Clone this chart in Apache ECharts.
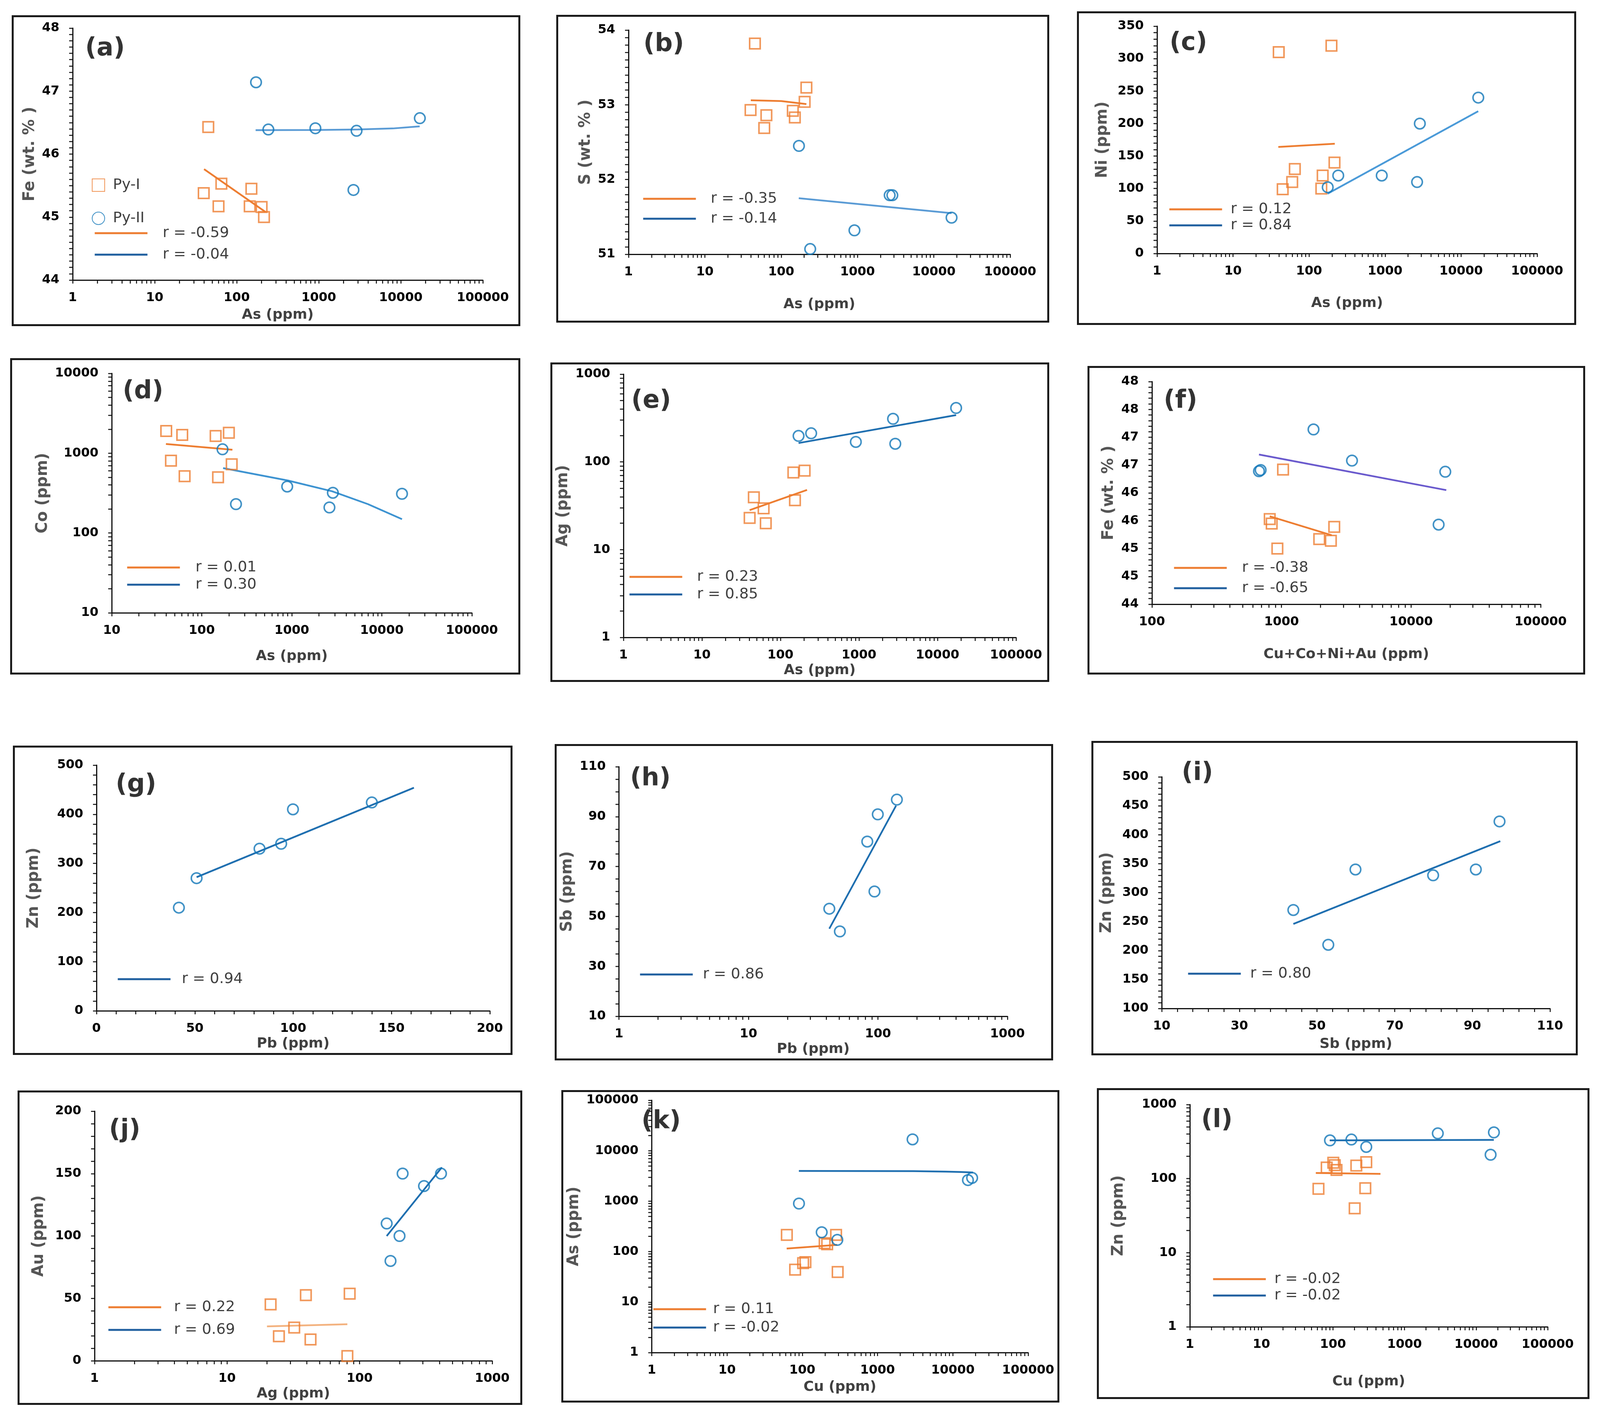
<!DOCTYPE html>
<html>
<head>
<meta charset="utf-8">
<script src="https://cdn.jsdelivr.net/npm/echarts@6/dist/echarts.min.js"></script>
<style>
html, body { margin: 0; padding: 0; background: #fff; }
body { width: 4097px; height: 3628px; position: relative; overflow: hidden; }
.panel { position: absolute; border: 5px solid #1a1a1a; box-sizing: border-box; background: #fff; }
.panel > div { position: absolute; left: 0; top: 0; }
</style>
</head>
<body>
<script>
// ---- data: [x, y] pairs ----
// (a) As vs Fe
const aPy1 = [[45, 46.43], [39.6, 45.38], [65, 45.53], [60, 45.17], [151, 45.45], [144, 45.17], [201, 45.16], [215, 45.0]];
const aPy2 = [[172, 47.14], [243, 46.39], [910, 46.41], [2890, 46.37], [17070, 46.57], [2650, 45.43]];
const aFit1 = [[40, 45.76], [225, 45.08]];
const aFit2 = [[170, 46.38], [1000, 46.383], [3000, 46.39], [8000, 46.407], [17000, 46.44]];
// (b) As vs S
const bPy1 = [[45.3, 53.82], [39.7, 52.93], [64, 52.86], [60, 52.69], [142, 52.92], [151, 52.83], [203, 53.04], [214, 53.23]];
const bPy2 = [[171, 52.45], [2640, 51.79], [2860, 51.79], [912, 51.32], [240, 51.07], [17070, 51.49]];
const bFit1 = [[40, 53.06], [100, 53.05], [214, 53.01]];
const bFit2 = [[170, 51.75], [17070, 51.55]];
// (c) As vs Ni
const cPy1 = [[39.9, 310], [197, 320], [45, 99], [60, 110], [65, 130], [151, 120], [145, 100], [216, 140]];
const cPy2 = [[242, 120], [176, 102], [904, 120], [2865, 200], [2637, 110], [16830, 240]];
const cFit1 = [[39.4, 164], [218, 169]];
const cFit2 = [[175, 92], [16800, 219]];
// (d) As vs Co
const dPy1 = [[40.3, 1898], [60.7, 1697], [142.6, 1644], [200, 1804], [45.5, 805], [64.5, 515], [151.7, 499], [215, 725]];
const dPy2 = [[170, 1119], [240, 230], [889, 382], [2858, 319], [2618, 209], [16750, 310]];
const dFit1 = [[40, 1306], [219, 1104]];
const dFit2 = [[172.6, 651], [904, 455], [2805, 333], [7010, 230], [16750, 149]];
// (e) As vs Ag
const ePy1 = [[40.5, 23], [45.8, 39.5], [61, 29.6], [65, 20], [146, 75.7], [203, 79.6], [153, 36.6]];
const ePy2 = [[170, 198], [246, 212], [912, 169], [2716, 310], [2900, 161], [17270, 412]];
const eFit1 = [[40.5, 28.2], [218, 47.9]];
const eFit2 = [[170, 164], [17270, 342]];
// (f) Cu+Co+Ni+Au vs Fe
const fPy1 = [[1028, 46.42], [811, 45.53], [840, 45.45], [929, 45.0], [1955, 45.17], [2404, 45.14], [2553, 45.39]];
const fPy2 = [[670, 46.39], [690, 46.41], [1766, 47.14], [3500, 46.58], [18370, 46.38], [16320, 45.43]];
const fFit1 = [[811, 45.58], [2440, 45.24]];
const fFit2 = [[670, 46.69], [18700, 46.05]];
// (g) Pb vs Zn
const gPy2 = [[41.9, 210], [50.9, 270], [82.9, 330], [93.9, 340], [99.9, 410], [140, 424]];
const gFit2 = [[50.9, 272], [161.4, 454]];
// (h) Pb vs Sb
const hPy2 = [[42.1, 53.1], [50.8, 44], [82.7, 80], [99.7, 90.9], [94, 60], [140, 96.8]];
const hFit2 = [[42.1, 45.1], [138, 94.4]];
// (i) Sb vs Zn
const iPy2 = [[43.9, 270], [52.9, 210], [59.9, 340], [79.9, 330], [90.9, 340], [97, 423]];
const iFit2 = [[43.9, 246], [97.2, 389]];
// (j) Ag vs Au
const jPy1 = [[21.3, 45.2], [24.6, 19.7], [32.1, 26.6], [39.3, 52.6], [42.6, 17.1], [84.1, 53.8], [80.8, 3.8]];
const jPy2 = [[160, 110], [171, 80], [200, 100], [211, 150], [306, 140], [411, 150]];
const jFit1 = [[20, 27.6], [80.8, 29.3]];
const jFit2 = [[160, 100], [417, 155]];
// (k) Cu vs As
const kPy1 = [[62.3, 215], [80.3, 43.9], [102.6, 59.1], [110, 62], [198, 147], [214, 140], [281, 215], [295, 39.4]];
const kPy2 = [[90.3, 897], [181, 242], [292, 171], [2917, 16760], [15870, 2619], [18030, 2891]];
const kFit1 = [[62, 115], [290, 136]];
const kFit2 = [[90, 3975], [3000, 3930], [8000, 3857], [13000, 3780], [18500, 3700]];
// (l) Cu vs Zn
const lPy1 = [[62.7, 72.8], [81.7, 141], [101, 164], [112, 131], [106, 152], [212, 150], [292, 167], [283, 74.3], [201, 39.7]];
const lPy2 = [[90.9, 328], [181, 337], [292, 268], [2917, 408], [17740, 421], [15950, 210]];
const lFit1 = [[57.6, 119], [461, 116]];
const lFit2 = [[90, 328], [17700, 333]];

// ---- tick labels ----
const log1to5 = [1, 10, 100, 1000, 10000, 100000];
const log10to5 = [10, 100, 1000, 10000, 100000];
const log100to5 = [100, 1000, 10000, 100000];
const log1to3 = [1, 10, 100, 1000];
const log10to4 = [10, 100, 1000, 10000];
const feLabels = [44, 45, 46, 47, 48];
const sLabels = [51, 52, 53, 54];
const niLabels = [0, 50, 100, 150, 200, 250, 300, 350];
const feLabelsF = [44, 44.5, 45, 45.5, 46, 46.5, 47, 47.5, 48];
const znLabelsG = [0, 100, 200, 300, 400, 500];
const pbLabelsG = [0, 50, 100, 150, 200];
const sbLabels = [10, 30, 50, 70, 90, 110];
const znLabelsI = [100, 150, 200, 250, 300, 350, 400, 450, 500];
const auLabels = [0, 50, 100, 150, 200];

const ORANGE = '#ed7d31';
const BLUE = '#1277b8';
const FIT_BLUE = '#1f6fb0';
const LIGHT_BLUE = '#5a9bd5';
const LEG_BLUE = '#1f5f9f';
const FONT = 'DejaVu Sans';
const LEG_H = 46;

function logTicks(min, max) {
    const t = [];
    for (let d = min; d < max; d *= 10) {
        for (let k = 1; k < 10; k++) t.push(k * d);
    }
    t.push(max);
    return t;
}
function linTicks(min, max, step) {
    const t = [];
    const n = Math.round((max - min) / step);
    for (let i = 0; i <= n; i++) t.push(Math.round((min + i * step) * 1000) / 1000);
    return t;
}
function logAxis(min, max, labels) {
    return { type: 'log', min: min, max: max, labels: labels, ticks: logTicks(min, max) };
}
function linAxis(min, max, labels, step) {
    return { type: 'value', min: min, max: max, labels: labels, ticks: linTicks(min, max, step) };
}

const panels = [
    { tag: '(a)', box: [30, 39, 1332, 835], plot: [186, 72, 1236, 722], tagPos: [218, 127],
      x: logAxis(1, 100000, log1to5), y: linAxis(44, 48, feLabels, 0.1),
      xName: 'As (ppm)', yName: 'Fe (wt. % )', xNameY: 813, yNameX: 80,
      py1: aPy1, py2: aPy2, fit1: aFit1, fit2: aFit2, fit2Color: LIGHT_BLUE,
      r1: 'r = -0.59', r2: 'r = -0.04', leg: { x: 240, y: 601, dy: 63, gap: 39 },
      sym: { x: 235, y: 471, dy: 79, gap: 23 } },
    { tag: '(b)', box: [1424, 38, 2686, 826], plot: [1609, 77, 2586, 651], tagPos: [1647, 116],
      x: logAxis(1, 100000, log1to5), y: linAxis(51, 54, sLabels, 0.1),
      xName: 'As (ppm)', yName: 'S (wt. % )', xNameY: 781, yNameX: 1500,
      py1: bPy1, py2: bPy2, fit1: bFit1, fit2: bFit2, fit2Color: LIGHT_BLUE,
      r1: 'r = -0.35', r2: 'r = -0.14', leg: { x: 1644, y: 513, dy: 59, gap: 38 } },
    { tag: '(c)', box: [2757, 29, 4035, 832], plot: [2962, 67, 3935, 649], tagPos: [2994, 113],
      x: logAxis(1, 100000, log1to5), y: linAxis(0, 350, niLabels, 10),
      xName: 'As (ppm)', yName: 'Ni (ppm)', xNameY: 778, yNameX: 2823,
      py1: cPy1, py2: cPy2, fit1: cFit1, fit2: cFit2, fit2Color: '#4a9ad8',
      r1: 'r = 0.12', r2: 'r = 0.84', leg: { x: 2991, y: 540, dy: 49, gap: 22 } },
    { tag: '(d)', box: [26, 917, 1332, 1727], plot: [286, 956, 1208, 1569], tagPos: [314, 1005],
      x: logAxis(10, 100000, log10to5), y: logAxis(10, 10000, log10to4),
      xName: 'As (ppm)', yName: 'Co (ppm)', xNameY: 1682, yNameX: 118,
      py1: dPy1, py2: dPy2, fit1: dFit1, fit2: dFit2, fit2Color: '#3d93d1',
      r1: 'r = 0.01', r2: 'r = 0.30', leg: { x: 323, y: 1457, dy: 52, gap: 40 } },
    { tag: '(e)', box: [1409, 928, 2686, 1746], plot: [1566, 958, 2601, 1632], tagPos: [1616, 1029],
      x: logAxis(1, 100000, log1to5), y: logAxis(1, 1000, log1to3),
      xName: 'As (ppm)', yName: 'Ag (ppm)', xNameY: 1718, yNameX: 1456,
      py1: ePy1, py2: ePy2, fit1: eFit1, fit2: eFit2, fit2Color: FIT_BLUE,
      r1: 'r = 0.23', r2: 'r = 0.85', leg: { x: 1609, y: 1481, dy: 53, gap: 38 } },
    { tag: '(f)', box: [2784, 937, 4058, 1727], plot: [2949, 977, 3944, 1547], tagPos: [2979, 1029],
      x: logAxis(100, 100000, log100to5), y: linAxis(44, 48, feLabelsF, 0.1),
      xName: 'Cu+Co+Ni+Au (ppm)', yName: 'Fe (wt. % )', xNameY: 1677, yNameX: 2839,
      py1: fPy1, py2: fPy2, fit1: fFit1, fit2: fFit2, fit2Color: '#6a5acd',
      r1: 'r = -0.38', r2: 'r = -0.65', leg: { x: 3003, y: 1458, dy: 60, gap: 39 } },
    { tag: '(g)', box: [33, 1909, 1312, 2701], plot: [247, 1959, 1254, 2591], tagPos: [296, 2012],
      x: linAxis(0, 200, pbLabelsG, 10), y: linAxis(0, 500, znLabelsG, 20),
      xName: 'Pb (ppm)', yName: 'Zn (ppm)', xNameY: 2676, yNameX: 87,
      py2: gPy2, fit2: gFit2, fit2Color: FIT_BLUE,
      r2: 'r = 0.94', leg: { x: 299, y: 2511, dy: 55, gap: 29 } },
    { tag: '(h)', box: [1420, 1905, 2696, 2715], plot: [1575, 1963, 2579, 2610], tagPos: [1613, 1996],
      x: logAxis(1, 1000, log1to3), y: linAxis(10, 110, sbLabels, 5),
      xName: 'Pb (ppm)', yName: 'Sb (ppm)', xNameY: 2682, yNameX: 1458,
      py2: hPy2, fit2: hFit2, fit2Color: FIT_BLUE,
      r2: 'r = 0.86', leg: { x: 1636, y: 2499, dy: 55, gap: 26 } },
    { tag: '(i)', box: [2794, 1897, 4039, 2702], plot: [2974, 1989, 3968, 2586], tagPos: [3025, 1982],
      x: linAxis(10, 110, sbLabels, 4), y: linAxis(100, 500, znLabelsI, 10),
      xName: 'Sb (ppm)', yName: 'Zn (ppm)', xNameY: 2679, yNameX: 2834,
      py2: iPy2, fit2: iFit2, fit2Color: FIT_BLUE,
      r2: 'r = 0.80', leg: { x: 3039, y: 2497, dy: 55, gap: 24 } },
    { tag: '(j)', box: [45, 2792, 1337, 3597], plot: [242, 2845, 1260, 3490], tagPos: [279, 2896],
      x: logAxis(1, 1000, log1to3), y: linAxis(0, 200, auLabels, 10),
      xName: 'Ag (ppm)', yName: 'Au (ppm)', xNameY: 3558, yNameX: 100,
      py1: jPy1, py2: jPy2, fit1: jFit1, fit2: jFit2, fit1Color: '#f3b27f', fit2Color: FIT_BLUE,
      r1: 'r = 0.22', r2: 'r = 0.69', leg: { x: 275, y: 3351, dy: 66, gap: 33 } },
    { tag: '(k)', box: [1437, 2791, 2712, 3591], plot: [1607, 2817, 2632, 3463], tagPos: [1642, 2874],
      x: logAxis(1, 100000, log1to5), y: logAxis(1, 100000, log1to5),
      xName: 'Cu (ppm)', yName: 'As (ppm)', xNameY: 3553, yNameX: 1470,
      py1: kPy1, py2: kPy2, fit1: kFit1, fit2: kFit2, fit2Color: FIT_BLUE,
      r1: 'r = 0.11', r2: 'r = -0.02', leg: { x: 1670, y: 3356, dy: 55, gap: 18 } },
    { tag: '(l)', box: [2808, 2786, 4069, 3582], plot: [3046, 2828, 3962, 3397], tagPos: [3075, 2871],
      x: logAxis(1, 100000, log1to5), y: logAxis(1, 1000, log1to3),
      xName: 'Cu (ppm)', yName: 'Zn (ppm)', xNameY: 3539, yNameX: 2864,
      py1: lPy1, py2: lPy2, fit1: lFit1, fit2: lFit2, fit2Color: FIT_BLUE,
      r1: 'r = -0.02', r2: 'r = -0.02 ', leg: { x: 3103, y: 3279, dy: 50, gap: 22 } }
];

function buildAxis(a, name, gap, isX) {
    return {
        type: a.type, min: a.min, max: a.max, logBase: 10,
        name: name, nameLocation: 'middle', nameGap: gap, nameRotate: isX ? 0 : 90,
        nameTextStyle: {
            fontFamily: FONT, fontWeight: 'bold',
            fontSize: isX ? 36 : 40, color: isX ? '#404040' : '#555'
        },
        axisLine: { show: true, onZero: false, lineStyle: { color: '#111', width: 3 } },
        axisTick: { show: true, length: 9, customValues: a.ticks, lineStyle: { color: '#111', width: 2.5 } },
        axisLabel: {
            customValues: a.labels, margin: isX ? 30 : 34,
            formatter: v => String(Math.round(v)),
            fontFamily: FONT, fontWeight: 'bold', fontSize: 32, color: '#000'
        },
        splitLine: { show: false }
    };
}

panels.forEach(p => {
    const [L, T, R, B] = p.box;
    const ox = L + 5, oy = T + 5;
    const outer = document.createElement('div');
    outer.className = 'panel';
    outer.style.left = L + 'px';
    outer.style.top = T + 'px';
    outer.style.width = (R - L) + 'px';
    outer.style.height = (B - T) + 'px';
    const inner = document.createElement('div');
    inner.style.width = (R - L - 10) + 'px';
    inner.style.height = (B - T - 10) + 'px';
    outer.appendChild(inner);
    document.body.appendChild(outer);

    const [gx0, gy0, gx1, gy1] = p.plot;
    const xGap = (p.xNameY - 19) - gy1;
    const yGap = gx0 - (p.yNameX + 20);

    const series = [];
    const lineItems = [];
    if (p.py1) {
        series.push({
            type: 'scatter', name: 'Py-I', data: p.py1, symbol: 'rect', symbolSize: 27, z: 3,
            itemStyle: { color: 'rgba(255,255,255,0)', borderColor: ORANGE, borderWidth: 4 }
        });
    }
    series.push({
        type: 'scatter', name: 'Py-II', data: p.py2, symbol: 'circle', symbolSize: 27, z: 3,
        itemStyle: { color: 'rgba(255,255,255,0)', borderColor: BLUE, borderWidth: 4 }
    });
    if (p.fit1) {
        series.push({
            type: 'line', name: p.r1, data: p.fit1, symbol: 'none', showSymbol: false, z: 2,
            lineStyle: { color: p.fit1Color || ORANGE, width: 4.5 }
        });
        lineItems.push({ name: p.r1, itemStyle: { opacity: 0 }, lineStyle: { color: ORANGE, width: 5 } });
    }
    series.push({
        type: 'line', name: p.r2, data: p.fit2, symbol: 'none', showSymbol: false, z: 2,
        lineStyle: { color: p.fit2Color, width: 4.5 }
    });
    lineItems.push({ name: p.r2, itemStyle: { opacity: 0 }, lineStyle: { color: LEG_BLUE, width: 5 } });

    const legends = [{
        orient: 'vertical', left: p.leg.x - ox, top: p.leg.y - oy - LEG_H / 2,
        itemWidth: 135, itemHeight: LEG_H, itemGap: p.leg.dy - LEG_H, padding: 0,
        selectedMode: false, data: lineItems,
        textStyle: { fontFamily: FONT, fontSize: 38, color: '#404040', padding: [0, 0, 0, p.leg.gap - 5] }
    }];
    if (p.sym) {
        legends.push({
            orient: 'vertical', left: p.sym.x - ox, top: p.sym.y - oy - 16,
            itemWidth: 32, itemHeight: 32, itemGap: p.sym.dy - 32, padding: 0,
            selectedMode: false, data: ['Py-I', 'Py-II'],
            textStyle: { fontFamily: FONT, fontSize: 38, color: '#404040', padding: [0, 0, 0, p.sym.gap - 7] }
        });
    }

    const chart = echarts.init(inner);
    const option = {
        animation: false,
        backgroundColor: '#fff',
        title: {
            text: p.tag, left: p.tagPos[0] - ox, top: p.tagPos[1] - oy - 34, padding: 0, z: 10,
            textStyle: { fontFamily: FONT, fontWeight: 'bold', fontSize: 64, color: '#333' }
        },
        grid: { left: gx0 - ox, top: gy0 - oy, width: gx1 - gx0, height: gy1 - gy0 },
        xAxis: buildAxis(p.x, p.xName, xGap, true),
        yAxis: buildAxis(p.y, p.yName, yGap, false),
        legend: legends,
        series: series
    };
    option && chart.setOption(option);
});
</script>
</body>
</html>
